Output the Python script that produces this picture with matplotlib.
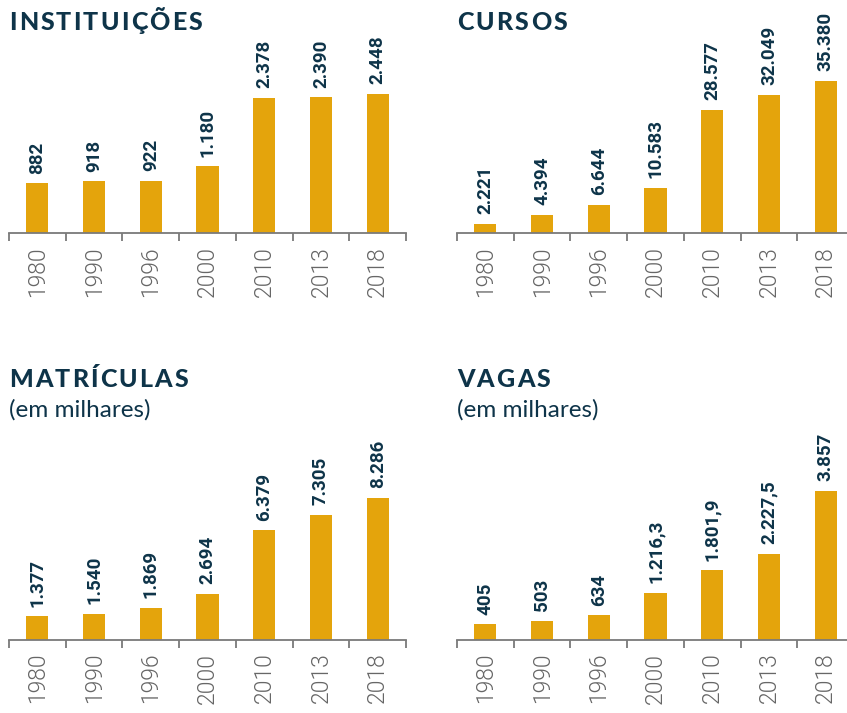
import matplotlib
matplotlib.use("Agg")
import matplotlib.pyplot as plt

# dados
anos = ["1980", "1990", "1996", "2000", "2010", "2013", "2018"]

instituicoes = [882, 918, 922, 1180, 2378, 2390, 2448]
instituicoes_txt = ["882", "918", "922", "1.180", "2.378", "2.390", "2.448"]

cursos = [2221, 4394, 6644, 10583, 28577, 32049, 35380]
cursos_txt = ["2.221", "4.394", "6.644", "10.583", "28.577", "32.049", "35.380"]

matriculas = [1377, 1540, 1869, 2694, 6379, 7305, 8286]
matriculas_txt = ["1.377", "1.540", "1.869", "2.694", "6.379", "7.305", "8.286"]

vagas = [405, 503, 634, 1216.3, 1801.9, 2227.5, 3857]
vagas_txt = ["405", "503", "634", "1.216,3", "1.801,9", "2.227,5", "3.857"]

titulos = ["INSTITUIÇÕES", "CURSOS", "MATRÍCULAS", "VAGAS"]
subtitulos = [None, None, "(em milhares)", "(em milhares)"]

# estilo
W, H = 847, 713
corBarra = "#E4A40C"
corTitulo = "#0E3449"
corAno = "#666666"
corEixo = "#7A7A7A"


def texto_espacado(fig, x, y, texto, espaco, **kw):
    renderer = fig.canvas.get_renderer()
    for letra in texto:
        t = fig.text(x / W, 1 - y / H, letra, **kw)
        x += t.get_window_extent(renderer).width + espaco


figura = plt.figure(figsize=(W / 100, H / 100), dpi=100)
figura.patch.set_facecolor("white")

# (x do eixo, y do eixo, folga do topo) em pixels
paineis = [
    (9, 233.5, 1.256),
    (457, 233.5, 1.146),
    (9, 640, 1.230),
    (457, 640, 1.174),
]
series = [(instituicoes, instituicoes_txt), (cursos, cursos_txt),
          (matriculas, matriculas_txt), (vagas, vagas_txt)]

largura_px = 397
altura_px = 175

for i in range(4):
    x0, y0, folga = paineis[i]
    valores, textos = series[i]
    ax = figura.add_axes([x0 / W, 1 - y0 / H, largura_px / W, altura_px / H])
    posicoes = range(len(anos))
    barras = ax.bar(posicoes, valores, width=0.39, color=corBarra, zorder=2)
    ax.set_xlim(-0.5, len(anos) - 0.5)
    ax.set_ylim(0, max(valores) * folga)

    for barra, txt in zip(barras, textos):
        ax.annotate(txt, (barra.get_x() + barra.get_width() / 2, barra.get_height()),
                    xytext=(0, 7), textcoords="offset points", rotation=90,
                    ha="center", va="bottom", fontsize=13.5, fontweight="bold",
                    color=corTitulo, family="Roboto")

    for lado in ["left", "right", "top"]:
        ax.spines[lado].set_visible(False)
    ax.spines["bottom"].set_color(corEixo)
    ax.spines["bottom"].set_linewidth(1.3)
    ax.set_yticks([])
    ax.set_xticks(list(posicoes))
    ax.set_xticklabels(anos, rotation=90, fontsize=16.5, color=corAno,
                       family="Roboto", fontweight=300)
    ax.tick_params(axis="x", which="major", length=0, pad=9)
    ax.set_xticks([p - 0.5 for p in range(len(anos) + 1)], minor=True)
    ax.tick_params(axis="x", which="minor", length=6, width=1.3, color=corEixo)

    ytitulo = 30 if i < 2 else 387
    texto_espacado(figura, x0, ytitulo, titulos[i], 2.2, fontsize=18,
                   fontweight=900, color=corTitulo, family="Lato", va="baseline")
    if subtitulos[i]:
        figura.text(x0 / W, 1 - 417 / H, subtitulos[i], fontsize=17.5,
                    color=corTitulo, family="Lato", va="baseline")

plt.savefig("out.png", dpi=100)
